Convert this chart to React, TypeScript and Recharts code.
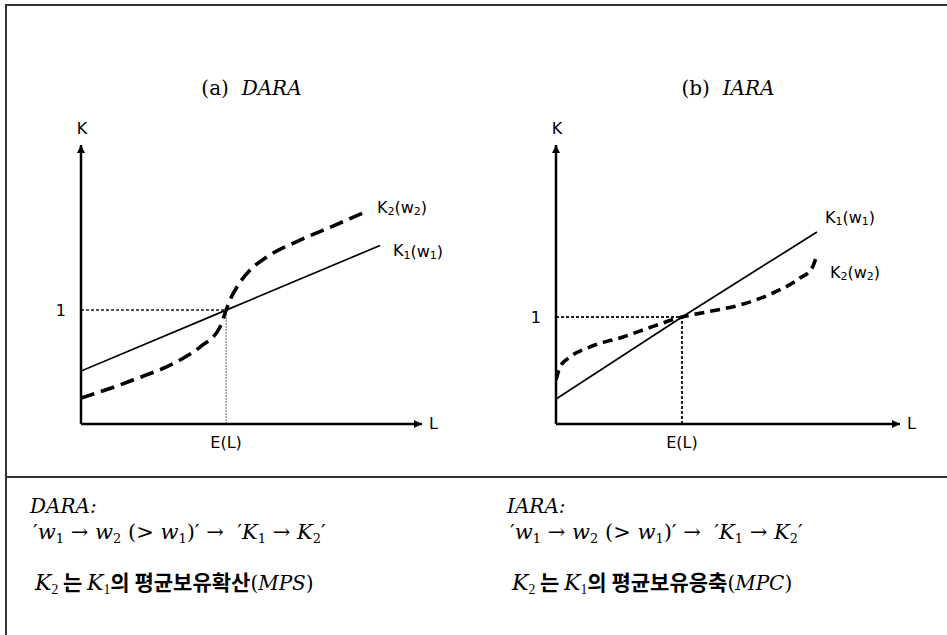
import React from "react";
import { LineChart, Line, XAxis, YAxis, ReferenceLine, ReferenceDot } from "recharts";

// (a) DARA : L on the x axis, K on the y axis, E(L) = 1 and K = 1 at the crossing
const daraK1L = [0, 1, 2.06];
const daraK1 = [0.465, 1, 1.567];
const daraK2L = [0, 0.358, 0.682, 0.82, 0.958, 1, 1.027, 1.075, 1.165, 1.28, 1.51, 1.74, 1.957];
const daraK2 = [0.228, 0.386, 0.562, 0.676, 0.852, 1, 1.089, 1.203, 1.352, 1.466, 1.615, 1.74, 1.861];

// (b) IARA
const iaraK1L = [0, 1, 2.071];
const iaraK1 = [0.234, 1, 1.794];
const iaraK2L = [0, 0.032, 0.111, 0.27, 0.532, 0.802, 1, 1.198, 1.46, 1.722, 1.937, 2.032, 2.063];
const iaraK2 = [0.411, 0.533, 0.626, 0.72, 0.813, 0.925, 1, 1.047, 1.112, 1.224, 1.364, 1.458, 1.551];

const xTicks = [1];
const yTicks = [1];
const xTickLabel = "E(L)";

const SANS = "'DejaVu Sans', sans-serif";
const SERIF = "'DejaVu Serif', serif";
const KOREAN = "'Noto Sans CJK KR', sans-serif";

const toPoints = (ls: number[], ks: number[]) => ls.map((l, i) => ({ l, k: ks[i] }));

function Tag({ viewBox, text, dx = 0, dy = 0, anchor = "start" }: any) {
  const x = viewBox.x + (viewBox.width || 0) / 2 + dx;
  const y = viewBox.y + (viewBox.height || 0) / 2 + dy;
  return (
    <text x={x} y={y} dominantBaseline="central" textAnchor={anchor} fontSize={16} fontFamily={SANS} fill="#000">
      {text}
    </text>
  );
}

function CurveLabel({ viewBox, idx, dx = 0, dy = 0 }: any) {
  const x = viewBox.x + (viewBox.width || 0) / 2 + dx;
  const y = viewBox.y + (viewBox.height || 0) / 2 + dy;
  return (
    <text x={x} y={y} dominantBaseline="central" fontSize={16} fontFamily={SANS} fill="#000">
      K
      <tspan fontSize={11} dy={4}>{idx}</tspan>
      <tspan dy={-4}>(w</tspan>
      <tspan fontSize={11} dy={4}>{idx}</tspan>
      <tspan dy={-4}>)</tspan>
    </text>
  );
}

type PanelProps = {
  id: string;
  left: number;
  width: number;
  plotLeft: number;
  plotRight: number;
  tag: string;
  name: string;
  xMax: number;
  yMax: number;
  k1: { l: number; k: number }[];
  k2: { l: number; k: number }[];
  k2Dash: string;
  hGuide: { stroke: string; width: number; dash: string };
  vGuide: { stroke: string; width: number; dash: string };
  k1Offset: [number, number];
  k2Offset: [number, number];
};

function Panel(p: PanelProps) {
  const height = 470;
  const top = 145;
  const axisY = 424;
  const yAxisWidth = 40;
  const xAxisHeight = 30;
  const k1End = p.k1[p.k1.length - 1];
  const k2End = p.k2[p.k2.length - 1];
  return (
    <div style={{ position: "absolute", left: p.left, top: 0, width: p.width, height }}>
      <div
        style={{
          position: "absolute",
          left: p.plotLeft,
          width: p.plotRight - p.plotLeft,
          top: 75,
          textAlign: "center",
          fontFamily: SERIF,
          fontSize: 20,
          lineHeight: "26px",
          color: "#000",
        }}
      >
        ({p.tag})&nbsp;&nbsp;<i>{p.name}</i>
      </div>
      <LineChart
        width={p.width}
        height={height}
        margin={{
          top,
          right: p.width - p.plotRight,
          left: p.plotLeft - yAxisWidth,
          bottom: height - axisY - xAxisHeight,
        }}
        style={{ position: "absolute", left: 0, top: 0 }}
      >
        <defs>
          <marker
            id={`arrow-${p.id}`}
            viewBox="0 0 10 10"
            refX="10"
            refY="5"
            markerWidth="10"
            markerHeight="8"
            markerUnits="userSpaceOnUse"
            orient="auto-start-reverse"
          >
            <path d="M0,0 L10,5 L0,10 z" fill="#000" />
          </marker>
        </defs>
        <XAxis
          type="number"
          dataKey="l"
          domain={[0, p.xMax]}
          ticks={xTicks}
          tickFormatter={() => xTickLabel}
          tickLine={false}
          tickMargin={7}
          height={xAxisHeight}
          tick={{ fill: "#000", fontSize: 16, fontFamily: SANS }}
          axisLine={{ stroke: "#000", strokeWidth: 2.5, markerEnd: `url(#arrow-${p.id})` }}
          allowDataOverflow
        />
        <YAxis
          type="number"
          domain={[0, p.yMax]}
          ticks={yTicks}
          tickLine={false}
          tickMargin={9}
          width={yAxisWidth}
          tick={{ fill: "#000", fontSize: 16, fontFamily: SANS }}
          axisLine={{ stroke: "#000", strokeWidth: 2.5, markerStart: `url(#arrow-${p.id})` }}
          allowDataOverflow
        />
        <ReferenceLine
          segment={[{ x: 0, y: 1 }, { x: 1, y: 1 }]}
          stroke={p.hGuide.stroke}
          strokeWidth={p.hGuide.width}
          strokeDasharray={p.hGuide.dash}
        />
        <ReferenceLine
          segment={[{ x: 1, y: 0 }, { x: 1, y: 1 }]}
          stroke={p.vGuide.stroke}
          strokeWidth={p.vGuide.width}
          strokeDasharray={p.vGuide.dash}
        />
        <Line
          data={p.k1}
          dataKey="k"
          type="linear"
          stroke="#000"
          strokeWidth={1.7}
          dot={false}
          activeDot={false}
          isAnimationActive={false}
        />
        <Line
          data={p.k2}
          dataKey="k"
          type="monotone"
          stroke="#000"
          strokeWidth={3.6}
          strokeDasharray={p.k2Dash}
          dot={false}
          activeDot={false}
          isAnimationActive={false}
        />
        <ReferenceDot
          x={0}
          y={p.yMax}
          r={0.5}
          fill="none"
          stroke="none"
          label={{ content: (lp: any) => <Tag {...lp} text="K" dx={1} dy={-17} anchor="middle" /> }}
        />
        <ReferenceDot
          x={p.xMax}
          y={0}
          r={0.5}
          fill="none"
          stroke="none"
          label={{ content: (lp: any) => <Tag {...lp} text="L" dx={7} dy={-1} /> }}
        />
        <ReferenceDot
          x={k1End.l}
          y={k1End.k}
          r={0.5}
          fill="none"
          stroke="none"
          label={{ content: (lp: any) => <CurveLabel {...lp} idx="1" dx={p.k1Offset[0]} dy={p.k1Offset[1]} /> }}
        />
        <ReferenceDot
          x={k2End.l}
          y={k2End.k}
          r={0.5}
          fill="none"
          stroke="none"
          label={{ content: (lp: any) => <CurveLabel {...lp} idx="2" dx={p.k2Offset[0]} dy={p.k2Offset[1]} /> }}
        />
      </LineChart>
    </div>
  );
}

const Sub = ({ children }: any) => (
  <span style={{ fontSize: "0.62em", position: "relative", top: "0.32em", fontStyle: "normal" }}>{children}</span>
);

function Notes({ left, name, korean, abbr }: { left: number; name: string; korean: string; abbr: string }) {
  return (
    <div style={{ position: "absolute", left, top: 0, color: "#000" }}>
      <div style={{ position: "absolute", left: 0, top: 494, fontFamily: SERIF, fontSize: 20, fontStyle: "italic", whiteSpace: "nowrap" }}>
        {name}:
      </div>
      <div style={{ position: "absolute", left: 3, top: 520, fontFamily: SERIF, fontSize: 21, whiteSpace: "nowrap" }}>
        ′<i>w</i>
        <Sub>1</Sub> → <i>w</i>
        <Sub>2</Sub> (&gt; <i>w</i>
        <Sub>1</Sub>)′ → &nbsp;′<i>K</i>
        <Sub>1</Sub> → <i>K</i>
        <Sub>2</Sub>′
      </div>
      <div style={{ position: "absolute", left: 5, top: 566, fontSize: 22, whiteSpace: "nowrap" }}>
        <i style={{ fontFamily: SERIF }}>K</i>
        <Sub>2</Sub>
        <span style={{ fontFamily: KOREAN, fontWeight: 700, fontSize: 21 }}> 는 </span>
        <i style={{ fontFamily: SERIF }}>K</i>
        <Sub>1</Sub>
        <span style={{ fontFamily: KOREAN, fontWeight: 700, fontSize: 21 }}>의 {korean}</span>
        <span style={{ fontFamily: SERIF, fontSize: 20 }}>
          (<i>{abbr}</i>)
        </span>
      </div>
    </div>
  );
}

export default function App() {
  return (
    <div style={{ position: "absolute", left: 0, top: 0, width: 947, height: 635, background: "#fff", overflow: "hidden" }}>
      <div style={{ position: "absolute", left: 5, top: 4, width: 942, height: 631, borderTop: "2px solid #333", borderLeft: "2px solid #333" }} />
      <div style={{ position: "absolute", left: 5, top: 476, width: 942, height: 0, borderTop: "2px solid #333" }} />
      <Panel
        id="a"
        left={0}
        width={470}
        plotLeft={81}
        plotRight={422}
        tag="a"
        name="DARA"
        xMax={2.35}
        yMax={2.45}
        k1={toPoints(daraK1L, daraK1)}
        k2={toPoints(daraK2L, daraK2)}
        k2Dash="14 7"
        hGuide={{ stroke: "#222", width: 1.5, dash: "3 2" }}
        vGuide={{ stroke: "#666", width: 1, dash: "2 1" }}
        k1Offset={[13, 5]}
        k2Offset={[12, -5]}
      />
      <Panel
        id="b"
        left={470}
        width={477}
        plotLeft={86}
        plotRight={430}
        tag="b"
        name="IARA"
        xMax={2.73}
        yMax={2.607}
        k1={toPoints(iaraK1L, iaraK1)}
        k2={toPoints(iaraK2L, iaraK2)}
        k2Dash="10 6"
        hGuide={{ stroke: "#222", width: 2, dash: "3 2" }}
        vGuide={{ stroke: "#222", width: 2, dash: "3 2" }}
        k1Offset={[8, -15]}
        k2Offset={[14, 14]}
      />
      <Notes left={30} name="DARA" korean="평균보유확산" abbr="MPS" />
      <Notes left={507} name="IARA" korean="평균보유응축" abbr="MPC" />
    </div>
  );
}
